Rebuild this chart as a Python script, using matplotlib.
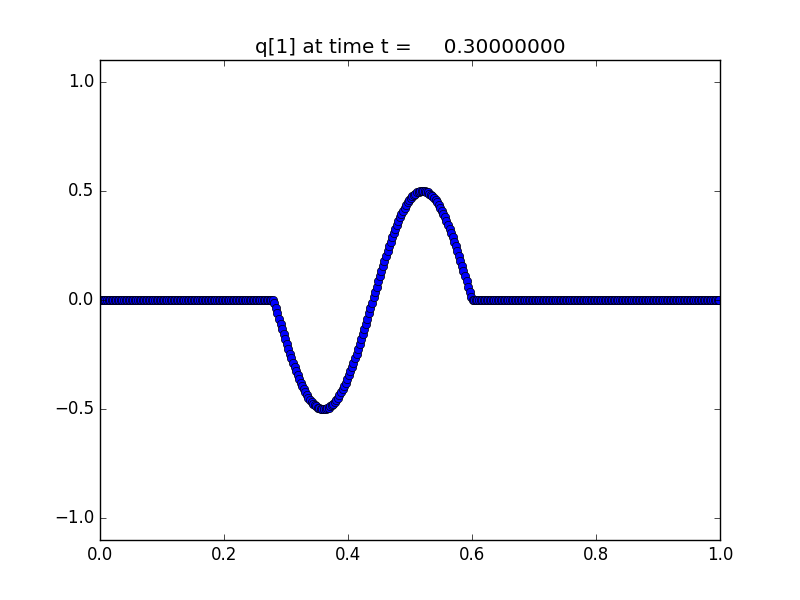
import numpy as np
import matplotlib
matplotlib.use("Agg")
import matplotlib.pyplot as plt

plt.style.use("classic")

# grid: 400 cell centres on [0, 1]
mx = 400
x = (np.arange(mx) + 0.5) / mx

# q[1]: zero outside the pulse, one sine period in 0.28..0.60
left_zeros = [0.0] * 112
trough = [-0.012, -0.037, -0.061, -0.085, -0.110, -0.133, -0.157, -0.180,
          -0.203, -0.225, -0.246, -0.268, -0.288, -0.308, -0.327, -0.345,
          -0.362, -0.379, -0.394, -0.409, -0.422, -0.435, -0.447, -0.457,
          -0.466, -0.475, -0.482, -0.488, -0.493, -0.496, -0.499, -0.500,
          -0.500, -0.499, -0.496, -0.493, -0.488, -0.482, -0.475, -0.466,
          -0.457, -0.447, -0.435, -0.422, -0.409, -0.394, -0.379, -0.362,
          -0.345, -0.327, -0.308, -0.288, -0.268, -0.246, -0.225, -0.203,
          -0.180, -0.157, -0.133, -0.110, -0.085, -0.061, -0.037, -0.012]
crest = [0.012, 0.037, 0.061, 0.085, 0.110, 0.133, 0.157, 0.180,
         0.203, 0.225, 0.246, 0.268, 0.288, 0.308, 0.327, 0.345,
         0.362, 0.379, 0.394, 0.409, 0.422, 0.435, 0.447, 0.457,
         0.466, 0.475, 0.482, 0.488, 0.493, 0.496, 0.499, 0.500,
         0.500, 0.499, 0.496, 0.493, 0.488, 0.482, 0.475, 0.466,
         0.457, 0.447, 0.435, 0.422, 0.409, 0.394, 0.379, 0.362,
         0.345, 0.327, 0.308, 0.288, 0.268, 0.246, 0.225, 0.203,
         0.180, 0.157, 0.133, 0.110, 0.085, 0.061, 0.037, 0.012]
right_zeros = [0.0] * 160
q1 = np.array(left_zeros + trough + crest + right_zeros)

t = 0.3

fig = plt.figure(figsize=(8, 6), dpi=100)
plt.plot(x, q1, 'bo')
plt.xlim(0, 1)
plt.ylim(-1.1, 1.1)
plt.title('q[1] at time t = %14.8f' % t)
plt.savefig("out.png", dpi=100)
